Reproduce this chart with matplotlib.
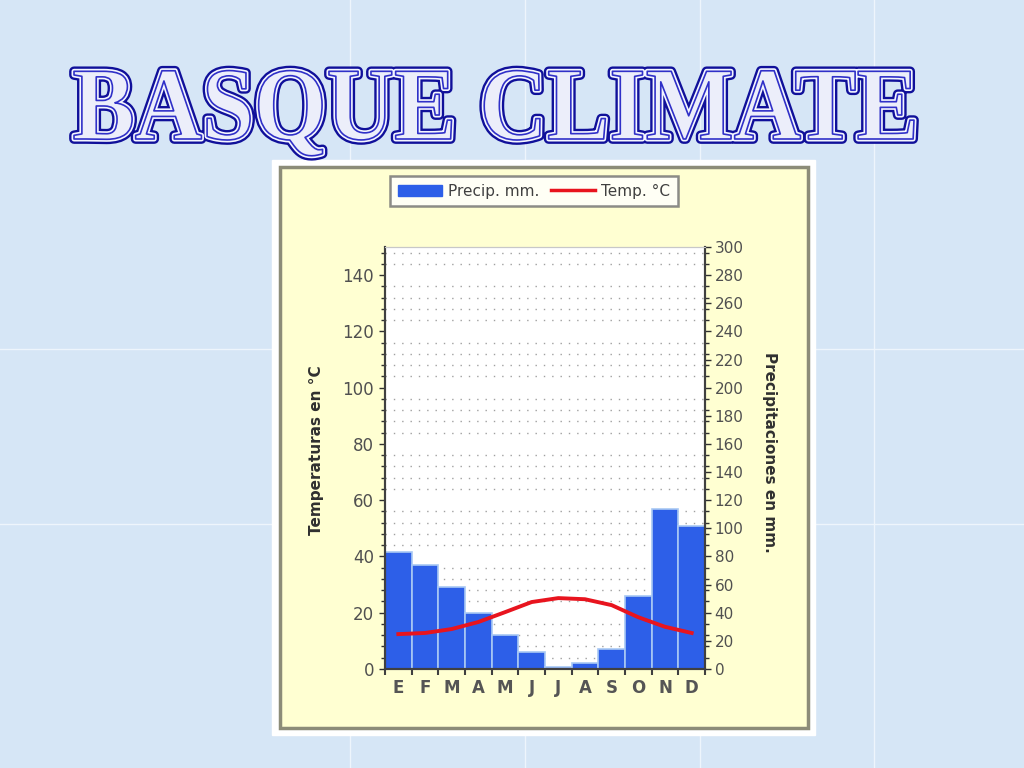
import matplotlib
matplotlib.use("Agg")
import matplotlib.pyplot as plt
import matplotlib.patheffects as pe
from matplotlib.patches import Rectangle, PathPatch, Patch
from matplotlib.lines import Line2D
from matplotlib.textpath import TextPath
from matplotlib.font_manager import FontProperties
from matplotlib.transforms import Affine2D
from matplotlib.ticker import MultipleLocator, FixedLocator

# data
months = ["E", "F", "M", "A", "M", "J", "J", "A", "S", "O", "N", "D"]
precip_mm = [83, 74, 58, 40, 24, 12, 1.5, 4, 14, 52, 114, 102]
temp_c = [12.4, 12.8, 14.2, 16.7, 20.2, 23.8, 25.2, 24.8, 22.7, 18.4, 15.0, 12.8]
temp_ticks = [0, 20, 40, 60, 80, 100, 120, 140]
precip_ticks = list(range(0, 301, 20))

W, H = 1024, 768
fig = plt.figure(figsize=(W / 100, H / 100), dpi=100)

# slide background in pixel coords (y up)
bg = fig.add_axes([0, 0, 1, 1])
bg.set_xlim(0, W)
bg.set_ylim(0, H)
bg.axis("off")
bg.add_patch(Rectangle((0, 0), W, H, color="#d6e6f6", zorder=0))
for xv in [350, 525, 700, 874]:
    bg.axvline(xv, color="#eef5fc", lw=1, zorder=1)
for yv in [H - 349, H - 524]:
    bg.axhline(yv, color="#eef5fc", lw=1, zorder=1)

# chart panel
bg.add_patch(Rectangle((272, H - 735), 543, 575, color="white", zorder=2))
bg.add_patch(Rectangle((280, H - 728), 528, 561, facecolor="#ffffd2",
                       edgecolor="#8c8c78", lw=2.5, zorder=3))

# outlined title
fp = FontProperties(family="Liberation Serif", weight="bold")
tp = TextPath((0, 0), "BASQUE CLIMATE", prop=fp, size=1)
cap = TextPath((0, 0), "B", prop=fp, size=1).get_extents()
ext = tp.get_extents()
sx = 840 / ext.width
sy = 68 / cap.height
tr = Affine2D().translate(-ext.x0, 0).scale(sx, sy).translate(74, H - 139)
title = PathPatch(tr.transform_path(tp), facecolor="#eceefa", edgecolor="#3030c8",
                  lw=1.2, zorder=5, joinstyle="round")
title.set_path_effects([
    pe.SimplePatchShadow(offset=(2, -2), shadow_rgbFace="#7080a8", alpha=0.6),
    pe.Stroke(linewidth=7, foreground="#10109a", joinstyle="round"),
    pe.Stroke(linewidth=3.6, foreground="#f4f6ff", joinstyle="round"),
    pe.Normal(),
])
bg.add_patch(title)

# main axes: bars on precip axis, line on temp twin
left, right, top, bottom = 385, 705, 247, 669
ax = fig.add_axes([left / W, 1 - bottom / H, (right - left) / W, (bottom - top) / H])
ax.set_facecolor("white")
x = range(len(months))
ax.bar(x, precip_mm, width=1.0, color="#2d5fe8", edgecolor="#a8c8f4", lw=1.2, zorder=2)
ax.set_xlim(-0.5, 11.5)
ax.set_ylim(0, 300)

axt = ax.twinx()
axt.plot(list(x), temp_c, color="#e8141e", lw=2.8, zorder=5)
axt.set_ylim(0, 150)

# swap sides: precip on the right, temperature on the left
ax.yaxis.tick_right()
axt.yaxis.tick_left()

ax.set_yticks(precip_ticks)
ax.yaxis.set_minor_locator(MultipleLocator(8))
ax.grid(True, which="minor", axis="y", color="#a0a0a0", linestyle=(0, (1, 5)), lw=1)
ax.set_axisbelow(True)
ax.tick_params(axis="y", which="major", length=4, width=1, colors="#303030",
               labelsize=11, pad=3)
ax.tick_params(axis="y", which="minor", length=3, width=1, colors="#303030")
for lab in ax.get_yticklabels():
    lab.set_color("#505050")

ax.set_xticks(list(x))
ax.set_xticklabels(months, fontsize=12, fontweight="bold", color="#555555")
ax.xaxis.set_minor_locator(FixedLocator([i - 0.5 for i in range(13)]))
ax.tick_params(axis="x", which="major", length=0, pad=7)
ax.tick_params(axis="x", which="minor", length=4, width=1.5, colors="#404040")

axt.set_yticks(temp_ticks)
axt.yaxis.set_minor_locator(MultipleLocator(4))
axt.tick_params(axis="y", which="major", length=4, width=1, colors="#303030",
                labelsize=12, pad=4)
axt.tick_params(axis="y", which="minor", length=3, width=1, colors="#303030")
for lab in axt.get_yticklabels():
    lab.set_color("#505050")

for a in (ax, axt):
    a.spines["left"].set_color("#404040")
    a.spines["right"].set_color("#404040")
    a.spines["bottom"].set_color("#404040")
    a.spines["top"].set_color("#c8c8c8")
    a.spines["left"].set_linewidth(1.5)
    a.spines["right"].set_linewidth(1.5)
    a.spines["bottom"].set_linewidth(1.5)

fig.text(316 / W, 1 - 450 / H, "Temperaturas en °C", rotation=90, ha="center",
         va="center", fontsize=11, fontweight="bold", color="#303030")
fig.text(770 / W, 1 - 452 / H, "Precipitaciones en mm.", rotation=-90, ha="center",
         va="center", fontsize=11, fontweight="bold", color="#303030")

handles = [Patch(facecolor="#2d5fe8", edgecolor="#2d5fe8"),
           Line2D([], [], color="#e8141e", lw=2.5)]
leg = fig.legend(handles, ["Precip. mm.", "Temp. °C"], loc="center",
                 bbox_to_anchor=(534 / W, 1 - 191 / H), ncol=2, fontsize=11,
                 frameon=True, fancybox=False, edgecolor="#707070",
                 handlelength=2.9, handletextpad=0.4, columnspacing=0.7,
                 borderpad=0.5, borderaxespad=0.3)
leg.get_frame().set_linewidth(1.8)
for t in leg.get_texts():
    t.set_color("#404040")

fig.savefig("out.png", dpi=100)
